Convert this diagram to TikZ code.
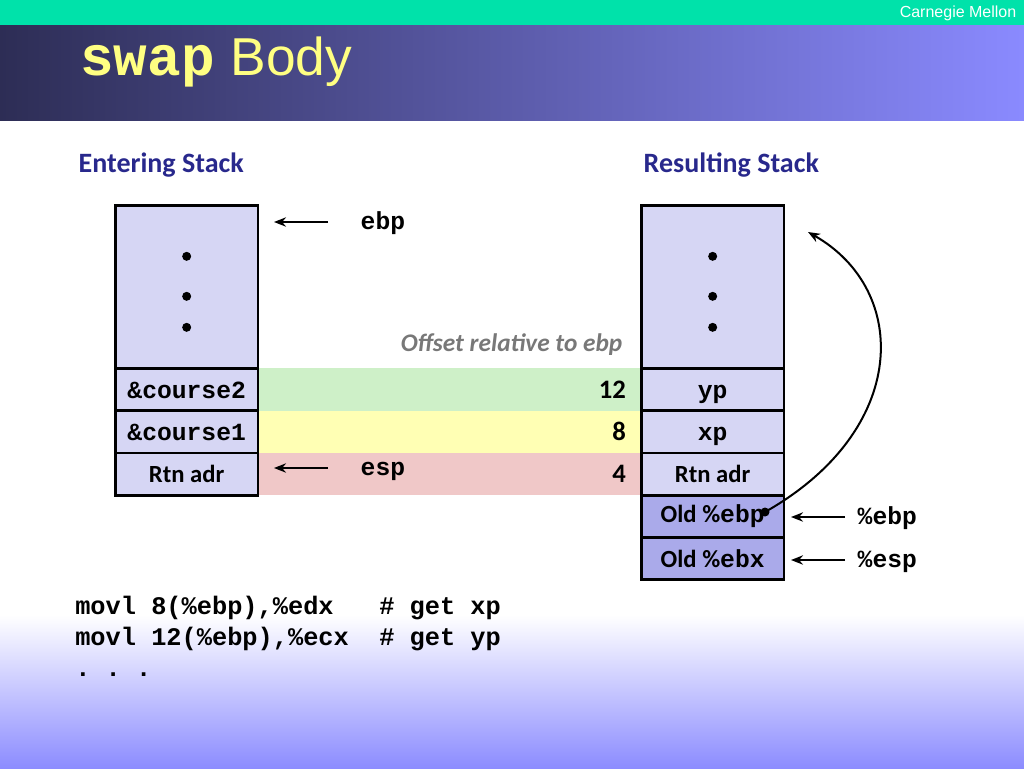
\documentclass[tikz,border=0pt]{standalone}
\usepackage{fontspec}
\setmainfont{Carlito}
\setsansfont{Liberation Sans}
\setmonofont{Liberation Mono}
\usetikzlibrary{matrix,backgrounds,calc,arrows.meta}

\definecolor{topbar}{RGB}{0,226,170}
\definecolor{titledark}{RGB}{45,45,85}
\definecolor{titlelight}{RGB}{138,138,255}
\definecolor{titleyellow}{RGB}{255,255,130}
\definecolor{headblue}{RGB}{40,40,140}
\definecolor{stackfill}{RGB}{214,214,244}
\definecolor{stackdark}{RGB}{170,170,234}
\definecolor{bandgreen}{RGB}{206,240,200}
\definecolor{bandyellow}{RGB}{255,255,180}
\definecolor{bandpink}{RGB}{240,200,200}
\definecolor{offgray}{RGB}{120,120,120}
\definecolor{footblue}{RGB}{140,140,255}

\tikzset{
  cell/.style={draw, line width=2pt, fill=stackfill, minimum width=107pt,
    minimum height=31.7pt, inner sep=0pt, outer sep=0pt,
    font=\fontsize{18.5}{20}\selectfont\bfseries},
  tall/.style={minimum height=122.3pt},
  old/.style={fill=stackdark},
  code/.style={font=\fontsize{18.5}{20}\selectfont\ttfamily\bfseries},
  word/.style={code, text height=15pt, text depth=2pt},
  stack/.style={matrix of nodes, nodes in empty cells, row sep=-2pt,
    inner sep=0pt, outer sep=0pt, nodes={cell}},
  ptr/.style={line width=1.5pt, -{Stealth[length=9pt,width=7pt]}},
  head/.style={text=headblue, font=\fontsize{21}{24}\selectfont\bfseries},
  num/.style={font=\fontsize{20}{22}\selectfont\bfseries}
}

\begin{document}
\begin{tikzpicture}[x=0.75pt, y=-0.75pt]
\useasboundingbox (0,0) rectangle (1024,768);

% header and footer
\fill[topbar] (0,0) rectangle (1024,25);
\shade[left color=titledark, right color=titlelight] (0,25) rectangle (1024,120);
\shade[top color=white, bottom color=footblue] (0,615) rectangle (1024,768);
\node[anchor=east, text=white, font=\sffamily\fontsize{12}{14}\selectfont] (cmu) at (1021,13) {Carnegie Mellon};
\node[anchor=base west, inner sep=0pt, text=titleyellow] (title) at (80,75)
  {\fontsize{42}{46}\selectfont\ttfamily\bfseries swap\hspace{12pt}\sffamily\mdseries\fontsize{40}{46}\selectfont Body};

\node[head, anchor=west] (enterHead) at (74,165) {Entering Stack};
\node[head, anchor=west] (resultHead) at (639,165) {Resulting Stack};

% the two stacks
\matrix (enter) [stack, anchor=north west] at (114,204) {
  |[tall]| \\
  |[word]| \&course2 \\
  |[word]| \&course1 \\
  Rtn adr \\
};
\matrix (result) [stack, anchor=north west] at (640,204) {
  |[tall]| \\
  |[word]| yp \\
  |[word]| xp \\
  Rtn adr \\
  |[old]| Old \%{\ttfamily ebp} \\
  |[old]| Old \%{\ttfamily ebx} \\
};
\foreach \s in {enter,result}
  \foreach \dy in {51,91,122}
    \fill ($(\s-1-1.north)+(0,\dy)$) circle (4.5);

% offsets
\begin{scope}[on background layer]
\fill[bandgreen] (enter-2-1.north east) rectangle (result-2-1.south west);
\fill[bandyellow] (enter-3-1.north east) rectangle (result-3-1.south west);
\fill[bandpink] (enter-4-1.north east) rectangle (result-4-1.south west);
\end{scope}
\node[num, anchor=east] (off12) at ([xshift=-8pt]result-2-1.west) {12};
\node[num, anchor=east] (off8) at ([xshift=-8pt]result-3-1.west) {8};
\node[num, anchor=east] (off4) at ([xshift=-8pt]result-4-1.west) {4};
\node[anchor=base east, text=offgray, font=\fontsize{19}{21}\selectfont\bfseries\itshape] (offset) at (627,351) {Offset relative to ebp};

% pointers
\node[code, anchor=base west] (ebpL) at (356,229) {ebp};
\node[code, anchor=base west] (espL) at (356,475) {esp};
\node[code, anchor=base west] (ebpR) at (853,524) {\%ebp};
\node[code, anchor=base west] (espR) at (853,567) {\%esp};
\coordinate (ebpLtip) at (274,222);
\coordinate (espLtip) at (274,468);
\coordinate (ebpRtip) at (791,517);
\coordinate (espRtip) at (791,560);
\draw[ptr] (ebpL.west |- ebpLtip) ++(-28,0) -- (ebpLtip);
\draw[ptr] (espL.west |- espLtip) ++(-28,0) -- (espLtip);
\draw[ptr] (ebpR.west |- ebpRtip) ++(-8,0) -- (ebpRtip);
\draw[ptr] (espR.west |- espRtip) ++(-8,0) -- (espRtip);

% saved frame pointer
\coordinate (oldDot) at (765,512);
\coordinate (frameTop) at (808,232);
\fill (oldDot) circle (4.5);
\draw[ptr] (oldDot) .. controls (910,430) and (910,290) .. (frameTop);

% code
\node[code, anchor=north west, align=left, inner sep=0pt,
  font=\fontsize{19}{23.25}\selectfont\ttfamily\bfseries] (asm) at (75,596)
  {movl 8(\%ebp),\%edx\ \ \ \# get xp\\
   movl 12(\%ebp),\%ecx\ \ \# get yp\\
   .\ .\ .};
\end{tikzpicture}
\end{document}
